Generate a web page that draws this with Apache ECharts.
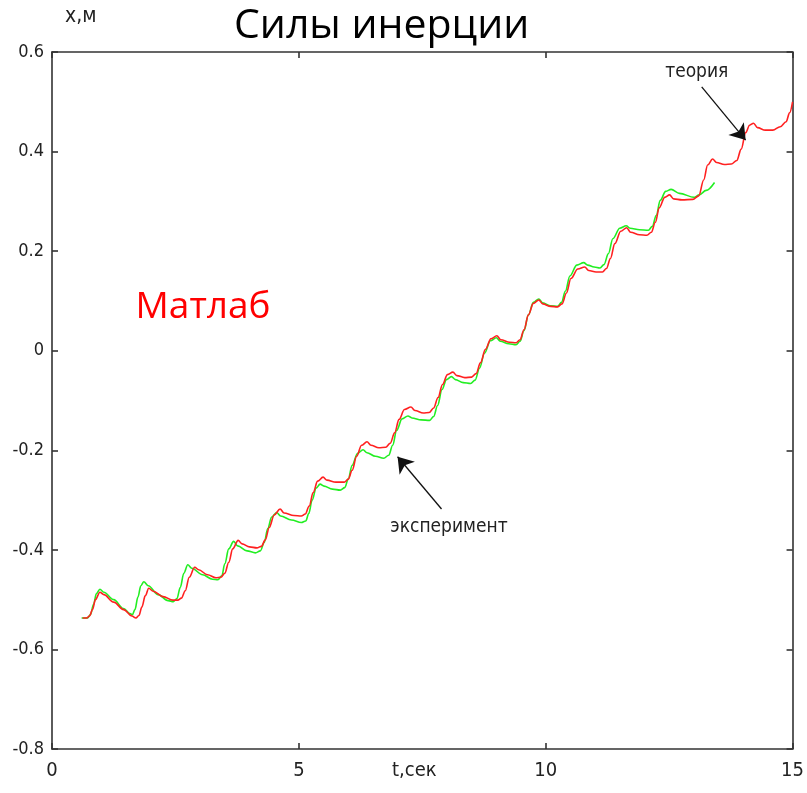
<!DOCTYPE html>
<html>
<head>
<meta charset="utf-8">
<script src="https://cdn.jsdelivr.net/npm/echarts@6/dist/echarts.min.js"></script>
<style>
html,body{margin:0;padding:0;background:#fff;}
#chart{width:807px;height:793px;}
</style>
</head>
<body>
<div id="chart"></div>
<script>
// Theory (red) curve: time, s
const theoryT = [0.62,0.70,0.76,0.82,0.88,0.97,
 1.05,1.25,1.45,1.62,1.70,1.76,1.82,1.89,1.96,
 2.05,2.25,2.45,2.55,2.62,2.70,2.78,2.89,
 2.97,3.15,3.32,3.42,3.50,3.58,3.66,3.77,
 3.85,4.00,4.15,4.24,4.32,4.40,4.50,4.62,
 4.70,4.90,5.05,5.13,5.21,5.29,5.38,5.49,
 5.57,5.75,5.92,6.00,6.08,6.17,6.27,6.38,
 6.46,6.62,6.76,6.85,6.94,7.03,7.14,7.27,
 7.35,7.52,7.64,7.73,7.82,7.91,8.01,8.12,
 8.20,8.36,8.50,8.59,8.68,8.78,8.89,9.01,
 9.09,9.27,9.40,9.48,9.56,9.65,9.75,9.86,
 9.94,10.10,10.24,10.33,10.42,10.51,10.65,10.79,
 10.87,11.02,11.15,11.23,11.31,11.40,11.52,11.64,
 11.72,11.90,12.05,12.14,12.22,12.30,12.41,12.51,
 12.59,12.76,12.98,13.10,13.20,13.28,13.38,
 13.46,13.62,13.76,13.87,13.96,14.05,14.13,14.21,
 14.29,14.45,14.60,14.75,14.87,14.94,15.00];
// Theory (red) curve: x, m
const theoryX = [-0.537,-0.537,-0.533,-0.520,-0.500,-0.485,
 -0.490,-0.505,-0.520,-0.533,-0.537,-0.532,-0.515,-0.492,-0.477,
 -0.483,-0.494,-0.501,-0.501,-0.497,-0.482,-0.455,-0.435,
 -0.440,-0.450,-0.456,-0.455,-0.447,-0.425,-0.398,-0.381,
 -0.388,-0.394,-0.396,-0.393,-0.380,-0.355,-0.330,-0.318,
 -0.326,-0.331,-0.332,-0.328,-0.312,-0.285,-0.262,-0.254,
 -0.260,-0.264,-0.264,-0.258,-0.240,-0.212,-0.190,-0.183,
 -0.190,-0.195,-0.194,-0.186,-0.165,-0.138,-0.118,-0.113,
 -0.120,-0.125,-0.124,-0.115,-0.094,-0.068,-0.048,-0.043,
 -0.050,-0.054,-0.053,-0.046,-0.024,0.003,0.024,0.030,
 0.022,0.017,0.016,0.022,0.042,0.072,0.095,0.102,
 0.094,0.089,0.088,0.094,0.116,0.145,0.164,0.168,
 0.161,0.158,0.158,0.165,0.185,0.215,0.240,0.247,
 0.238,0.233,0.232,0.238,0.258,0.287,0.308,0.313,
 0.305,0.303,0.304,0.311,0.343,0.373,0.385,
 0.378,0.374,0.375,0.382,0.405,0.438,0.453,0.457,
 0.448,0.443,0.443,0.450,0.460,0.478,0.500];
// Experiment (green) curve: time, s
const experimentT = [0.60,0.72,0.78,0.84,0.90,0.97,
 1.05,1.25,1.45,1.58,1.63,1.68,1.74,1.80,1.86,
 1.95,2.15,2.35,2.46,2.53,2.60,2.67,2.75,
 2.83,3.05,3.25,3.36,3.44,3.50,3.58,3.68,
 3.76,3.95,4.12,4.22,4.30,4.37,4.45,4.55,
 4.63,4.85,5.05,5.14,5.20,5.27,5.35,5.43,
 5.51,5.68,5.84,5.93,6.00,6.08,6.19,6.30,
 6.38,6.55,6.72,6.82,6.90,6.98,7.09,7.21,
 7.29,7.48,7.65,7.73,7.81,7.90,7.99,8.09,
 8.17,8.33,8.48,8.57,8.66,8.76,8.88,9.00,
 9.08,9.25,9.40,9.48,9.56,9.65,9.75,9.86,
 9.94,10.10,10.24,10.32,10.40,10.49,10.63,10.77,
 10.85,10.98,11.10,11.18,11.27,11.36,11.50,11.63,
 11.71,11.90,12.08,12.16,12.24,12.32,12.43,12.54,
 12.71,13.01,13.11,13.25,13.42];
// Experiment (green) curve: x, m
const experimentX = [-0.537,-0.537,-0.530,-0.510,-0.488,-0.479,
 -0.485,-0.500,-0.518,-0.528,-0.530,-0.520,-0.495,-0.472,-0.464,
 -0.472,-0.490,-0.502,-0.504,-0.498,-0.475,-0.447,-0.430,
 -0.437,-0.450,-0.459,-0.460,-0.452,-0.428,-0.398,-0.383,
 -0.392,-0.402,-0.406,-0.402,-0.385,-0.357,-0.334,-0.325,
 -0.332,-0.340,-0.345,-0.342,-0.327,-0.300,-0.276,-0.268,
 -0.272,-0.278,-0.280,-0.275,-0.258,-0.230,-0.206,-0.199,
 -0.205,-0.212,-0.216,-0.210,-0.190,-0.160,-0.137,-0.131,
 -0.135,-0.139,-0.140,-0.132,-0.110,-0.078,-0.058,-0.052,
 -0.058,-0.064,-0.066,-0.059,-0.035,-0.005,0.020,0.026,
 0.019,0.014,0.012,0.019,0.040,0.072,0.097,0.104,
 0.096,0.090,0.089,0.097,0.120,0.150,0.172,0.177,
 0.172,0.168,0.166,0.173,0.195,0.225,0.246,0.251,
 0.246,0.243,0.242,0.250,0.272,0.302,0.320,0.324,
 0.316,0.308,0.313,0.322,0.338];

const xTicks = [0, 5, 10, 15];
const yTicks = [-0.8, -0.6, -0.4, -0.2, 0, 0.2, 0.4, 0.6];

// Annotations (data coordinates)
const theoryLabel = {text: 'теория', at: [13.06, 0.560], from: [13.16, 0.530], to: [14.05, 0.423]};
const experimentLabel = {text: 'эксперимент', at: [8.04, -0.354], from: [7.89, -0.318], to: [7.00, -0.213]};
const matlabLabel = {text: 'Матлаб', at: [3.06, 0.086]};

const zip = (a, b) => a.map((v, i) => [v, b[i]]);
const tickFont = '"Liberation Sans Narrow","DejaVu Sans Condensed","Arial Narrow",sans-serif';
const axisColor = '#333';

const chart = echarts.init(document.getElementById('chart'), null, {renderer: 'canvas'});
const baseX = {
  type: 'value', min: 0, max: 15, interval: 5,
  axisLine: {show: true, onZero: false, lineStyle: {color: axisColor, width: 1.6}},
  axisTick: {show: true, inside: true, length: 6, lineStyle: {color: axisColor, width: 1.6}},
  splitLine: {show: false}
};
const baseY = {
  type: 'value', min: -0.8, max: 0.6, interval: 0.2,
  axisLine: {show: true, onZero: false, lineStyle: {color: axisColor, width: 1.6}},
  axisTick: {show: true, inside: true, length: 6, lineStyle: {color: axisColor, width: 1.6}},
  splitLine: {show: false}
};
chart.setOption({
  animation: false,
  backgroundColor: '#fff',
  grid: {left: 52, right: 14, top: 52, bottom: 44, containLabel: false},
  xAxis: [
    Object.assign({}, baseX, {position: 'bottom',
      axisLabel: {show: true, margin: 12, color: '#222', fontSize: 20, fontFamily: tickFont,
        formatter: v => xTicks.includes(v) ? String(v) : ''}}),
    Object.assign({}, baseX, {position: 'top', axisLabel: {show: false}})
  ],
  yAxis: [
    Object.assign({}, baseY, {position: 'left',
      axisLabel: {show: true, margin: 8, color: '#222', fontSize: 18, fontFamily: tickFont,
        formatter: v => { const r = Math.round(v * 10) / 10; return yTicks.includes(r) ? String(r) : ''; }}}),
    Object.assign({}, baseY, {position: 'right', axisLabel: {show: false}})
  ],
  series: [
    {
      name: 'эксперимент', type: 'line', data: zip(experimentT, experimentX),
      showSymbol: false, smooth: 0.35, smoothMonotone: 'x',
      lineStyle: {color: '#22ee22', width: 1.6}, z: 3,
      markPoint: {
        symbol: 'circle', symbolSize: 0, silent: true,
        label: {show: true, position: 'inside', color: '#222', fontSize: 19, fontFamily: tickFont,
          formatter: p => p.name},
        data: [
          {name: experimentLabel.text, coord: experimentLabel.at},
          {name: theoryLabel.text, coord: theoryLabel.at}
        ]
      },
      markLine: {
        silent: true, symbol: ['none', 'arrow'], symbolSize: 15,
        lineStyle: {color: '#111', width: 1.3, type: 'solid'},
        itemStyle: {color: '#111'},
        label: {show: false},
        data: [
          [{coord: experimentLabel.from}, {coord: experimentLabel.to}],
          [{coord: theoryLabel.from}, {coord: theoryLabel.to}]
        ]
      }
    },
    {
      name: 'теория', type: 'line', data: zip(theoryT, theoryX),
      showSymbol: false, smooth: 0.35, smoothMonotone: 'x',
      lineStyle: {color: '#ff2020', width: 1.6}, z: 4,
      markPoint: {
        symbol: 'circle', symbolSize: 0, silent: true,
        label: {show: true, position: 'inside', color: '#ff0000', fontSize: 37,
          fontFamily: '"Open Sans","Noto Sans",sans-serif', formatter: p => p.name},
        data: [{name: matlabLabel.text, coord: matlabLabel.at}]
      }
    }
  ],
  graphic: [
    {type: 'text', left: 234, top: 6, style: {text: 'Силы инерции', fill: '#000',
      font: '41px "Open Sans","Noto Sans",sans-serif'}},
    {type: 'text', left: 65, top: 6, style: {text: 'x,м', fill: '#222',
      font: '21px ' + tickFont}},
    {type: 'text', left: 392, top: 761, style: {text: 't,сек', fill: '#222',
      font: '20px ' + tickFont}}
  ]
});
</script>
</body>
</html>
